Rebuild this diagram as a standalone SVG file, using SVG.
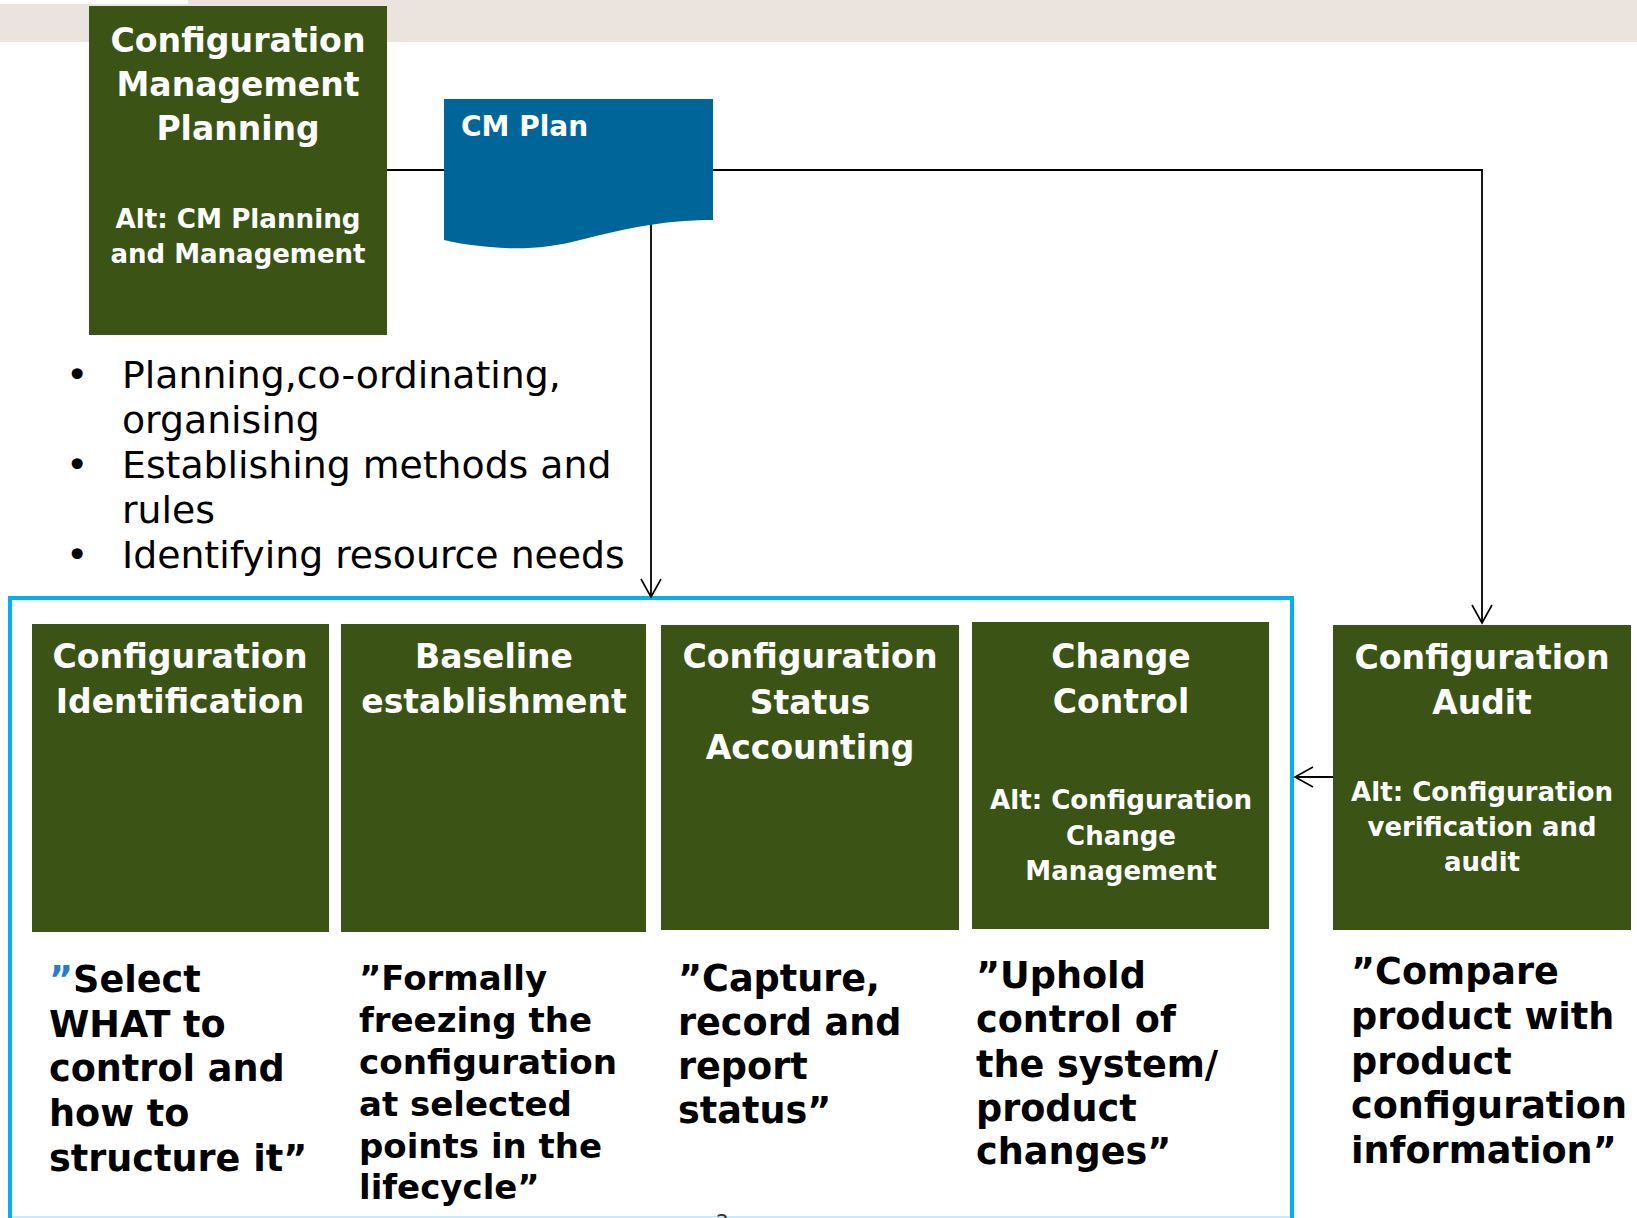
<svg xmlns="http://www.w3.org/2000/svg" width="1637" height="1218" viewBox="0 0 1637 1218">
<defs>
<style>
.box{fill:#3b5314}
.t{font-family:"DejaVu Sans",Verdana,sans-serif;font-weight:bold;fill:#fff;text-anchor:middle}
.h{font-size:33px}
.a{font-size:26px}
.q{font-family:"DejaVu Sans",Verdana,sans-serif;font-weight:bold;fill:#000;font-size:36.6px}
.b{font-family:"DejaVu Sans",Verdana,sans-serif;fill:#000;font-size:37.8px}
.c{fill:none;stroke:#000;stroke-width:1.8}
</style>
<marker id="ah" markerUnits="userSpaceOnUse" markerWidth="22" markerHeight="24" refX="19" refY="11" orient="auto">
<path d="M1,1 L19,11 L1,21" fill="none" stroke="#000" stroke-width="1.6"/>
</marker>
</defs>
<rect x="0" y="0" width="1637" height="1218" fill="#fff"/>
<rect x="0" y="0" width="1637" height="42" fill="#ebe4de"/>
<rect x="0" y="0" width="188" height="4" fill="#fff"/>

<g id="frame">
<rect x="10" y="598" width="1282" height="640" fill="none" stroke="#00b0f0" stroke-width="4"/>
<line x1="12" y1="1217" x2="1290" y2="1217" stroke="#cde9f7" stroke-width="2"/>
</g>

<g id="connectors">
<path class="c" d="M387,170 H1482 V623" marker-end="url(#ah)"/>
<path class="c" d="M651,180 V597" marker-end="url(#ah)"/>
<path class="c" d="M1333,777 H1295" marker-end="url(#ah)"/>
</g>

<g id="planning">
<rect class="box" x="89" y="6" width="298" height="329"/>
<text class="t h" x="238" y="52" textLength="255" lengthAdjust="spacingAndGlyphs">Configuration</text>
<text class="t h" x="238" y="96">Management</text>
<text class="t h" x="238" y="140">Planning</text>
<text class="t a" x="238" y="228" textLength="245" lengthAdjust="spacingAndGlyphs">Alt: CM Planning</text>
<text class="t a" x="238" y="263" textLength="255" lengthAdjust="spacingAndGlyphs">and Management</text>
</g>

<g id="cmplan">
<path d="M444,99 H713 V220 C660,220 620,230 580,240 C550,248 520,250 490,247 C470,245 455,243 444,240 Z" fill="#006699"/>
<text class="t" style="font-size:28px;text-anchor:start" x="461" y="136">CM Plan</text>
</g>

<g id="bullets">
<text class="b" x="66" y="388">•</text>
<text class="b" x="122" y="388">Planning,co-ordinating,</text>
<text class="b" x="122" y="433">organising</text>
<text class="b" x="66" y="478">•</text>
<text class="b" x="122" y="478">Establishing methods and</text>
<text class="b" x="122" y="523">rules</text>
<text class="b" x="66" y="568">•</text>
<text class="b" x="122" y="568">Identifying resource needs</text>
</g>

<g id="identification">
<rect class="box" x="32" y="624" width="297" height="308"/>
<text class="t h" x="180" y="668" textLength="255" lengthAdjust="spacingAndGlyphs">Configuration</text>
<text class="t h" x="180" y="713">Identification</text>
</g>

<g id="baseline">
<rect class="box" x="341" y="624" width="305" height="308"/>
<text class="t h" x="494" y="668">Baseline</text>
<text class="t h" x="494" y="713">establishment</text>
</g>

<g id="status">
<rect class="box" x="661" y="625" width="298" height="305"/>
<text class="t h" x="810" y="668" textLength="255" lengthAdjust="spacingAndGlyphs">Configuration</text>
<text class="t h" x="810" y="714">Status</text>
<text class="t h" x="810" y="759">Accounting</text>
</g>

<g id="change">
<rect class="box" x="972" y="622" width="297" height="307"/>
<text class="t h" x="1121" y="668">Change</text>
<text class="t h" x="1121" y="713">Control</text>
<text class="t a" x="1121" y="809" textLength="262" lengthAdjust="spacingAndGlyphs">Alt: Configuration</text>
<text class="t a" x="1121" y="845">Change</text>
<text class="t a" x="1121" y="880">Management</text>
</g>

<g id="audit">
<rect class="box" x="1333" y="625" width="298" height="305"/>
<text class="t h" x="1482" y="669" textLength="255" lengthAdjust="spacingAndGlyphs">Configuration</text>
<text class="t h" x="1482" y="714">Audit</text>
<text class="t a" x="1482" y="801" textLength="262" lengthAdjust="spacingAndGlyphs">Alt: Configuration</text>
<text class="t a" x="1482" y="836" textLength="229" lengthAdjust="spacingAndGlyphs">verification and</text>
<text class="t a" x="1482" y="871">audit</text>
</g>

<g id="quote1">
<text class="q" x="49" y="992"><tspan fill="#1f80c8">”</tspan>Select</text>
<text class="q" x="49" y="1037">WHAT to</text>
<text class="q" x="49" y="1081">control and</text>
<text class="q" x="49" y="1126">how to</text>
<text class="q" x="49" y="1171">structure it”</text>
</g>

<g id="quote2">
<text class="q" style="font-size:34px" x="359" y="990">”Formally</text>
<text class="q" style="font-size:34px" x="359" y="1032">freezing the</text>
<text class="q" style="font-size:34px" x="359" y="1074" textLength="258" lengthAdjust="spacingAndGlyphs">configuration</text>
<text class="q" style="font-size:34px" x="359" y="1116">at selected</text>
<text class="q" style="font-size:34px" x="359" y="1158">points in the</text>
<text class="q" style="font-size:34px" x="359" y="1199">lifecycle”</text>
</g>

<g id="quote3">
<text class="q" x="678" y="991">”Capture,</text>
<text class="q" x="678" y="1035">record and</text>
<text class="q" x="678" y="1079">report</text>
<text class="q" x="678" y="1123">status”</text>
</g>

<g id="quote4">
<text class="q" x="976" y="988">”Uphold</text>
<text class="q" x="976" y="1032">control of</text>
<text class="q" x="976" y="1077">the system/</text>
<text class="q" x="976" y="1121">product</text>
<text class="q" x="976" y="1164">changes”</text>
</g>

<g id="quote5">
<text class="q" x="1351" y="984">”Compare</text>
<text class="q" x="1351" y="1029">product with</text>
<text class="q" x="1351" y="1074">product</text>
<text class="q" x="1351" y="1118" textLength="276" lengthAdjust="spacingAndGlyphs">configuration</text>
<text class="q" x="1351" y="1163">information”</text>
</g>

<text x="716" y="1228" style="font-family:'DejaVu Sans',sans-serif;font-size:20px;fill:#333">2</text>
</svg>
